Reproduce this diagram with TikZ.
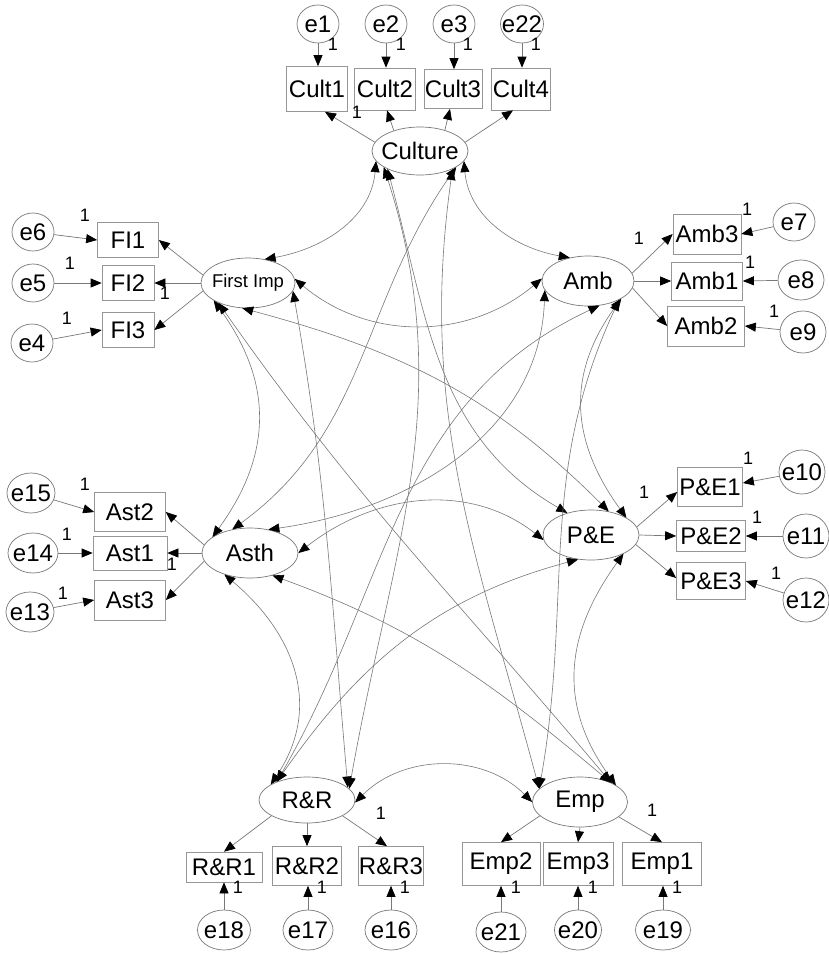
\documentclass[tikz,border=0pt]{standalone}
\usepackage{fontspec}
\setmainfont{Liberation Sans}
\usetikzlibrary{arrows.meta,shapes.geometric}
\definecolor{lc}{RGB}{120,120,120}
\definecolor{bc}{RGB}{150,150,150}
\begin{document}
\begin{tikzpicture}[x=1pt,y=1pt,
  font=\fontsize{24}{26}\selectfont,
  every label/.style={inner sep=0pt,text=black},
  obs/.style={draw=bc,line width=0.7pt,rectangle,inner sep=0pt},
  lat/.style={draw=lc,line width=0.7pt,ellipse,inner sep=0pt},
  err/.style={draw=lc,line width=0.7pt,ellipse,inner sep=0pt},
  one/.style={font=\fontsize{18}{18}\selectfont,inner sep=0pt},
  reg/.style={draw=lc,line width=0.7pt,-{Triangle[length=11pt,width=9pt,color=black]}},
  covar/.style={draw=lc,line width=0.6pt,{Triangle[length=11pt,width=9pt,color=black]}-{Triangle[length=11pt,width=9pt,color=black]}},
]
\fill[white] (0,0) rectangle (829,-954);
\useasboundingbox (0,0) rectangle (829,-954);

% ---------- latent factors ----------
\node[lat,minimum width=96pt,minimum height=48pt,label=center:Culture] (Cul) at (420,-151) {};
\node[lat,minimum width=94pt,minimum height=50pt,label={[font=\fontsize{18.5}{19}\selectfont]center:First Imp}] (FI) at (248,-283) {};
\node[lat,minimum width=92pt,minimum height=50pt,label=center:Amb] (Amb) at (588,-281) {};
\node[lat,minimum width=96pt,minimum height=50pt,label=center:Asth] (Ast) at (250,-553) {};
\node[lat,minimum width=96pt,minimum height=50pt,label=center:P\&E] (PE) at (591,-535) {};
\node[lat,minimum width=96pt,minimum height=46pt,label=center:R\&R] (RR) at (307,-800) {};
\node[lat,minimum width=95pt,minimum height=50pt,label=center:Emp] (Emp) at (580,-802) {};

% ---------- indicators ----------
\node[obs,minimum width=61pt,minimum height=45pt] (C1) at (317,-89) {Cult1};
\node[obs,minimum width=61pt,minimum height=42pt] (C2) at (385,-89) {Cult2};
\node[obs,minimum width=58pt,minimum height=39pt] (C3) at (453,-89) {Cult3};
\node[obs,minimum width=59pt,minimum height=42pt] (C4) at (521,-89) {Cult4};

\node[obs,minimum width=61pt,minimum height=35pt] (FI1) at (128,-240) {FI1};
\node[obs,minimum width=52pt,minimum height=35pt] (FI2) at (128,-283) {FI2};
\node[obs,minimum width=52pt,minimum height=35pt] (FI3) at (128,-330) {FI3};

\node[obs,minimum width=68pt,minimum height=40pt] (A3) at (707,-234) {Amb3};
\node[obs,minimum width=71pt,minimum height=38pt] (A1) at (707,-281) {Amb1};
\node[obs,minimum width=77pt,minimum height=40pt] (A2) at (706,-326) {Amb2};

\node[obs,minimum width=71pt,minimum height=39pt] (S2) at (130,-512) {Ast2};
\node[obs,minimum width=74pt,minimum height=34pt] (S1) at (130,-553) {Ast1};
\node[obs,minimum width=71pt,minimum height=40pt] (S3) at (130,-600) {Ast3};

\node[obs,minimum width=65pt,minimum height=39pt] (P1) at (710,-487) {P\&E1};
\node[obs,minimum width=69pt,minimum height=31pt] (P2) at (711,-536) {P\&E2};
\node[obs,minimum width=69pt,minimum height=37pt] (P3) at (711,-581) {P\&E3};

\node[obs,minimum width=76pt,minimum height=30pt] (R1) at (224,-867) {R\&R1};
\node[obs,minimum width=69pt,minimum height=39pt] (R2) at (307,-866) {R\&R2};
\node[obs,minimum width=65pt,minimum height=39pt] (R3) at (391,-866) {R\&R3};

\node[obs,minimum width=78pt,minimum height=43pt] (M2) at (501,-864) {Emp2};
\node[obs,minimum width=70pt,minimum height=43pt] (M3) at (578,-864) {Emp3};
\node[obs,minimum width=79pt,minimum height=43pt] (M1) at (662,-864) {Emp1};

% ---------- error terms ----------
\node[err,minimum width=42pt,minimum height=38pt,label=center:e1] (e1) at (318,-24) {};
\node[err,minimum width=42pt,minimum height=38pt,label=center:e2] (e2) at (386,-24) {};
\node[err,minimum width=42pt,minimum height=38pt,label=center:e3] (e3) at (454,-24) {};
\node[err,minimum width=43pt,minimum height=38pt,label=center:e22] (e22) at (522,-24) {};

\node[err,minimum width=42pt,minimum height=38pt,label=center:e6] (e6) at (33,-232) {};
\node[err,minimum width=42pt,minimum height=38pt,label=center:e5] (e5) at (33,-283) {};
\node[err,minimum width=42pt,minimum height=38pt,label=center:e4] (e4) at (32,-343) {};

\node[err,minimum width=42pt,minimum height=38pt,label=center:e7] (e7) at (794,-222) {};
\node[err,minimum width=46pt,minimum height=40pt,label=center:e8] (e8) at (801,-280) {};
\node[err,minimum width=46pt,minimum height=42pt,label=center:e9] (e9) at (803,-332) {};

\node[err,minimum width=48pt,minimum height=40pt,label=center:e15] (e15) at (31,-493) {};
\node[err,minimum width=50pt,minimum height=40pt,label=center:e14] (e14) at (33,-553) {};
\node[err,minimum width=48pt,minimum height=40pt,label=center:e13] (e13) at (30,-612) {};

\node[err,minimum width=46pt,minimum height=44pt,label=center:e10] (e10) at (802,-472) {};
\node[err,minimum width=46pt,minimum height=44pt,label=center:e11] (e11) at (806,-536) {};
\node[err,minimum width=46pt,minimum height=44pt,label=center:e12] (e12) at (806,-600) {};

\node[err,minimum width=53pt,minimum height=40pt,label=center:e18] (e18) at (224,-930) {};
\node[err,minimum width=50pt,minimum height=40pt,label=center:e17] (e17) at (308,-930) {};
\node[err,minimum width=52pt,minimum height=40pt,label=center:e16] (e16) at (391,-930) {};

\node[err,minimum width=50pt,minimum height=40pt,label=center:e21] (e21) at (501,-932) {};
\node[err,minimum width=47pt,minimum height=40pt,label=center:e20] (e20) at (578,-930) {};
\node[err,minimum width=55pt,minimum height=40pt,label=center:e19] (e19) at (663,-930) {};

% ---------- factor loadings ----------
\draw[reg] (Cul.169) -- ([xshift=8pt]C1.south);
\draw[reg] (Cul.142) -- ([xshift=2pt]C2.south);
\draw[reg] (Cul.40) -- ([xshift=-3pt]C3.south);
\draw[reg] (Cul.11) -- ([xshift=-8pt]C4.south);

\draw[reg] (FI.170) -- (FI1.east);
\draw[reg] (FI.180) -- (FI2.east);
\draw[reg] (FI.190) -- (FI3.east);

\draw[reg] (Amb.10) -- (A3.west);
\draw[reg] (Amb.0) -- (A1.west);
\draw[reg] (Amb.-9) -- (A2.west);

\draw[reg] (Ast.170) -- (S2.east);
\draw[reg] (Ast.180) -- (S1.east);
\draw[reg] (Ast.190) -- (S3.east);

\draw[reg] (PE.10) -- ([yshift=-5pt]P1.west);
\draw[reg] (PE.0) -- (P2.west);
\draw[reg] (PE.-12) -- ([yshift=3pt]P3.west);

\draw[reg] (RR.204) -- (R1.north);
\draw[reg] (RR.270) -- (R2.north);
\draw[reg] (RR.336) -- ([xshift=-4pt]R3.north);

\draw[reg] (Emp.199) -- (M2.north);
\draw[reg] (Emp.270) -- (M3.north);
\draw[reg] (Emp.339) -- (M1.north);

% ---------- error paths ----------
\draw[reg] (e1) -- (e1 |- C1.north);
\draw[reg] (e2) -- (e2 |- C2.north);
\draw[reg] (e3) -- (e3 |- C3.north);
\draw[reg] (e22) -- (e22 |- C4.north);

\draw[reg] (e6) -- (FI1.west);
\draw[reg] (e5) -- (FI2.west);
\draw[reg] (e4) -- (FI3.west);

\draw[reg] (e7) -- (A3.east);
\draw[reg] (e8) -- (A1.east);
\draw[reg] (e9) -- (A2.east);

\draw[reg] (e15) -- (S2.west);
\draw[reg] (e14) -- (S1.west);
\draw[reg] (e13) -- (S3.west);

\draw[reg] (e10) -- ([yshift=4pt]P1.east);
\draw[reg] (e11) -- (P2.east);
\draw[reg] (e12) -- (P3.east);

\draw[reg] (e18) -- (e18 |- R1.south);
\draw[reg] (e17) -- (e17 |- R2.south);
\draw[reg] (e16) -- (e16 |- R3.south);

\draw[reg] (e21) -- (e21 |- M2.south);
\draw[reg] (e20) -- (e20 |- M3.south);
\draw[reg] (e19) -- (e19 |- M1.south);

% ---------- fixed parameters ----------
\node[one] (w1) at (333,-44) {1};
\node[one] (w2) at (401,-44) {1};
\node[one] (w3) at (468,-44) {1};
\node[one] (w4) at (536,-44) {1};
\node[one] (w5) at (357,-112) {1};
\node[one] (w6) at (85,-215) {1};
\node[one] (w7) at (70,-263) {1};
\node[one] (w8) at (67,-318) {1};
\node[one] (w9) at (165,-293) {1};
\node[one] (w10) at (747,-209) {1};
\node[one] (w11) at (750,-262) {1};
\node[one] (w12) at (774,-311) {1};
\node[one] (w13) at (639,-238) {1};
\node[one] (w14) at (85,-484) {1};
\node[one] (w15) at (67,-534) {1};
\node[one] (w16) at (63,-593) {1};
\node[one] (w17) at (172,-564) {1};
\node[one] (w18) at (748,-458) {1};
\node[one] (w19) at (757,-517) {1};
\node[one] (w20) at (776,-573) {1};
\node[one] (w21) at (644,-492) {1};
\node[one] (w22) at (238,-887) {1};
\node[one] (w23) at (322,-887) {1};
\node[one] (w24) at (405,-887) {1};
\node[one] (w25) at (381,-813) {1};
\node[one] (w26) at (516,-887) {1};
\node[one] (w27) at (593,-887) {1};
\node[one] (w28) at (677,-887) {1};
\node[one] (w29) at (652,-810) {1};

% ---------- covariances ----------
\draw[covar] (Cul.193) to[out=265,in=10] (FI.55);
\draw[covar] (Cul.347) to[out=275,in=170] (Amb.128);
\draw[covar] (FI.5) to[out=320,in=220] (Amb.177);
\draw[covar] (FI.207) to[out=306,in=54,looseness=1.1] (Ast.157);
\draw[covar] (Amb.332) to[out=234,in=126,looseness=1.1] (PE.26);
\draw[covar] (Ast.220) to[out=320,in=56,looseness=1.1] (RR.157);
\draw[covar] (PE.330) to[out=234,in=126,looseness=1.1] (Emp.25);
\draw[covar] (RR.357) to[out=45,in=135] (Emp.180);
\draw[covar] (Ast.0) to[out=38,in=142] (PE.186);
\draw[covar] (Cul.204) to[out=288,in=80] (RR.15);
\draw[covar] (Cul.209) to[out=285,in=150] (PE.137);
\draw[covar] (Cul.336) to[out=235,in=36] (Ast.127);
\draw[covar] (Cul.331) to[out=262,in=105] (Emp.162);
\draw[covar] (FI.350) to[out=280,in=95] (RR.17);
\draw[covar] (FI.214) to[out=305,in=130] (Emp.32);
\draw[covar] (FI.257) to[out=345,in=135] (PE.53);
\draw[covar] (Amb.295) to[out=205,in=60] (RR.149);
\draw[covar] (Amb.329) to[out=245,in=80] (Emp.162);
\draw[covar] (PE.242) to[out=195,in=55] (RR.149);
\draw[covar] (Ast.315) to[out=340,in=140] (Emp.32);
\draw[covar] (Amb.192) to[out=268,in=8] (Ast.52);
\end{tikzpicture}
\end{document}
